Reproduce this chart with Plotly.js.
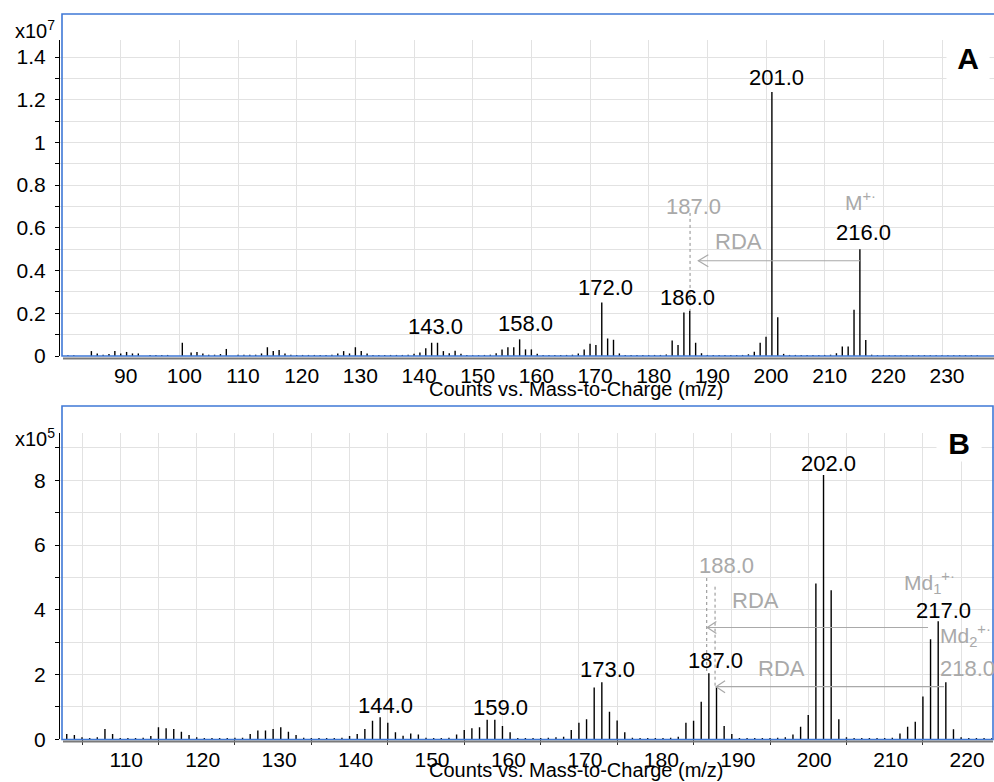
<!DOCTYPE html>
<html>
<head>
<meta charset="utf-8">
<script src="https://cdn.plot.ly/plotly-3.0.1.min.js"></script>
<style>html,body{margin:0;padding:0;background:#fff;}#chart{width:994px;height:782px;}</style>
</head>
<body>
<div id="chart"></div>
<script>
// ---- Panel A: m/z and counts (x10^7) ----
const mzA = [81,82,85,86,87,88,89,90,91,92,93,95,96,97,98,100.5,102,103,104,105,106,107,108,110,111,112,113,114,115,116,117,118,119,120,121,122,123,124,125,126,127,128,129,130,131,132,133,134,135,136,137,138,139,140,141,142,143,144,145,146,147,148,149,150,151,152,153,154,155,156,157,158,159,160,161,162,163,164,165,166,167,168,169,170,171,172,173,174,175,176,177,178,179,180,181,182,183,184,185,186,187,188,189,190,191,192,193,194,195,196,197,198,199,200,201,202,203,204,205,206,207,208,209,210,211,212,213,214,215,216,217,218,219,220,221,222,223,224,225,226,227,228,229,230,231,232,233,234,235,236];
const intA = [0.004,0.004,0.023,0.012,0.006,0.009,0.023,0.012,0.019,0.012,0.012,0.005,0.005,0.005,0.005,0.062,0.016,0.019,0.012,0.006,0.006,0.009,0.033,0.006,0.006,0.006,0.006,0.012,0.041,0.023,0.028,0.012,0.006,0.005,0.005,0.005,0.005,0.005,0.005,0.006,0.012,0.023,0.012,0.041,0.023,0.012,0.005,0.005,0.005,0.005,0.005,0.005,0.006,0.010,0.016,0.036,0.062,0.062,0.023,0.013,0.025,0.010,0.005,0.004,0.004,0.005,0.006,0.013,0.031,0.041,0.041,0.078,0.031,0.031,0.010,0.005,0.005,0.005,0.005,0.005,0.006,0.012,0.031,0.057,0.052,0.250,0.082,0.076,0.012,0.005,0.005,0.005,0.005,0.005,0.005,0.005,0.007,0.072,0.052,0.204,0.212,0.062,0.013,0.005,0.005,0.005,0.005,0.005,0.005,0.005,0.008,0.020,0.062,0.090,1.236,0.181,0.010,0.005,0.005,0.005,0.005,0.005,0.005,0.005,0.006,0.013,0.045,0.044,0.216,0.500,0.075,0.006,0.004,0.004,0.004,0.004,0.004,0.004,0.004,0.004,0.004,0.004,0.004,0.004,0.004,0.004,0.004,0.004,0.004,0.004];
const labeledA = [143, 158, 172, 186, 201, 216];
const xTicksA = [90,100,110,120,130,140,150,160,170,180,190,200,210,220,230];

// ---- Panel B: m/z and counts (x10^5) ----
const mzB = [103,104,105,106,107,108,109,110,111,112,113,114,115,116,117,118,119,120,121,122,123,124,125,126,127,128,129,130,131,132,133,134,135,136,137,138,139,140,141,142,143,144,145,146,147,148,149,150,151,152,153,154,155,156,157,158,159,160,161,162,163,164,165,166,167,168,169,170,171,172,173,174,175,176,177,178,179,180,181,182,183,184,185,186,187,188,189,190,191,192,193,194,195,196,197,198,199,200,201,202,203,204,205,206,207,208,209,210,211,212,213,214,215,216,217,218,219,220,221,222,223,224];
const intB = [0.16,0.13,0.06,0.04,0.06,0.32,0.16,0.04,0.04,0.04,0.05,0.10,0.37,0.34,0.32,0.23,0.13,0.06,0.04,0.04,0.04,0.04,0.05,0.05,0.16,0.27,0.27,0.32,0.37,0.23,0.13,0.05,0.04,0.04,0.04,0.04,0.05,0.10,0.16,0.32,0.57,0.68,0.51,0.22,0.11,0.18,0.15,0.05,0.04,0.04,0.05,0.15,0.29,0.34,0.37,0.60,0.60,0.41,0.22,0.04,0.04,0.04,0.04,0.05,0.06,0.08,0.29,0.51,0.62,1.60,1.76,0.85,0.58,0.22,0.05,0.04,0.04,0.04,0.04,0.05,0.08,0.51,0.57,1.16,2.04,1.61,0.41,0.16,0.04,0.04,0.04,0.04,0.04,0.05,0.06,0.15,0.39,0.75,4.81,8.16,4.60,0.62,0.06,0.04,0.04,0.04,0.04,0.04,0.05,0.18,0.39,0.54,1.32,3.09,3.65,1.76,0.31,0.06,0.04,0.04,0.04,0.03];
const labeledB = [144, 159, 173, 187, 202, 217];

const FONT = 'Liberation Sans, Arial, Helvetica, sans-serif';
const GRID = '#e2e2e2';
const BLUE = '#3f78d6';
const GRAY = '#a9a9a9';

function stems(mz, vals, xa, ya) {
  const x = [], y = [];
  mz.forEach((m, i) => { x.push(m, m, null); y.push(0, vals[i], null); });
  return {type: 'scatter', mode: 'lines', x, y, xaxis: xa, yaxis: ya,
          line: {color: '#000', width: 1.4}, hoverinfo: 'skip', showlegend: false};
}

const traces = [stems(mzA, intA, 'x', 'y'), stems(mzB, intB, 'x2', 'y2')];

const H = 782, L = 60, W = 934;
const py = p => (H - p) / H;       // pixel row -> paper y
const px = p => (p - L) / W;       // pixel column -> paper x

function lab(text, x, y, xref, yref, color, size, extra) {
  return Object.assign({text, x, y, xref, yref, showarrow: false,
    xanchor: 'center', yanchor: 'middle',
    font: {family: FONT, size: size || 22, color: color || '#000'}}, extra || {});
}

// peak label positions (data coordinates)
const posA = {143: [143.71, 0.137], 158: [158.92, 0.152], 172: [172.64, 0.323], 186: [186.62, 0.276], 201: [201.71, 1.306], 216: [216.59, 0.576]};
const posB = {144: [144.74, 1.059], 159: [159.72, 0.967], 173: [173.74, 2.141], 187: [187.81, 2.449], 202: [202.70, 8.534], 217: [217.68, 3.963]};

const annotations = [];
labeledA.forEach(m => annotations.push(lab(m.toFixed(1), posA[m][0], posA[m][1], 'x', 'y')));
labeledB.forEach(m => annotations.push(lab(m.toFixed(1), posB[m][0], posB[m][1], 'x2', 'y2')));

// gray annotations A
annotations.push(lab('187.0', 187.56, 0.698, 'x', 'y', GRAY));
annotations.push(lab('RDA', 195.32, 0.538, 'x', 'y', GRAY));
annotations.push(lab('M<sup>+·</sup>', 216.03, 0.725, 'x', 'y', GRAY, 21));
annotations.push(lab('<b>A</b>', 234.44, 1.395, 'x', 'y', '#000', 30,
  {bgcolor: '#fff', width: 40, height: 40}));
// gray annotations B
annotations.push(lab('188.0', 189.34, 5.353, 'x2', 'y2', GRAY));
annotations.push(lab('RDA', 193.11, 4.287, 'x2', 'y2', GRAY));
annotations.push(lab('RDA', 196.44, 2.202, 'x2', 'y2', GRAY));
annotations.push(lab('Md<sub>1</sub><sup>+·</sup>', 215.9, 4.83, 'x2', 'y2', GRAY, 21));
annotations.push(lab('Md<sub>2</sub><sup>+·</sup>', 220.6, 3.22, 'x2', 'y2', GRAY, 21));
annotations.push(lab('218.0', 220.78, 2.202, 'x2', 'y2', GRAY));
annotations.push(lab('<b>B</b>', 219.73, 9.15, 'x2', 'y2', '#000', 30,
  {bgcolor: '#fff', width: 42, height: 34}));

// multipliers and axis titles
annotations.push(lab('x10<sup>7</sup>', px(35), py(29), 'paper', 'paper', '#000', 20));
annotations.push(lab('x10<sup>5</sup>', px(35), py(437), 'paper', 'paper', '#000', 20));
annotations.push(lab('Counts vs. Mass-to-Charge (m/z)', px(576), py(389), 'paper', 'paper', '#000', 20));
annotations.push(lab('Counts vs. Mass-to-Charge (m/z)', px(576), py(770), 'paper', 'paper', '#000', 20));

function chevron(xt, yt, dx, dy, xr, yr) {
  return {type: 'path', xref: xr, yref: yr, layer: 'above',
    path: `M ${xt+dx},${yt+dy} L ${xt},${yt} L ${xt+dx},${yt-dy}`,
    line: {color: GRAY, width: 1.2}};
}
function seg(x0, y0, x1, y1, xr, yr, color, dash, width) {
  return {type: 'line', xref: xr, yref: yr, x0, y0, x1, y1, layer: 'above',
    line: {color, width: width || 1.2, dash: dash || 'solid'}};
}

const shapes = [
  {type: 'rect', xref: 'paper', yref: 'paper', x0: px(62), x1: px(1000), y0: py(356), y1: py(14),
   line: {color: BLUE, width: 1.6}, layer: 'above'},
  {type: 'rect', xref: 'paper', yref: 'paper', x0: px(62), x1: px(993), y0: py(739.5), y1: py(406),
   line: {color: BLUE, width: 1.6}, layer: 'above'},
  seg(px(63), py(358.5), px(1000), py(358.5), 'paper', 'paper', '#7a7a7a', 'solid', 2),
  seg(px(63), py(741.5), px(993), py(741.5), 'paper', 'paper', '#7a7a7a', 'solid', 2),
  seg(187.05, 0.67, 187.05, 0.212, 'x', 'y', '#8c8c8c', '3px,3px', 1),
  seg(188.46, 0.446, 216.03, 0.446, 'x', 'y', GRAY),
  chevron(188.46, 0.446, 1.7, 0.028, 'x', 'y'),
  seg(186.72, 4.982, 186.72, 2.048, 'x2', 'y2', '#8c8c8c', '3px,3px', 1),
  seg(187.81, 4.714, 187.81, 1.615, 'x2', 'y2', '#8c8c8c', '3px,3px', 1),
  seg(186.8, 3.453, 215.67, 3.453, 'x2', 'y2', GRAY),
  chevron(186.8, 3.453, 1.18, 0.185, 'x2', 'y2'),
  seg(187.94, 1.625, 217.77, 1.625, 'x2', 'y2', GRAY),
  chevron(187.94, 1.625, 1.18, 0.185, 'x2', 'y2')
];

const tickFont = {family: FONT, size: 21, color: '#000'};
const layout = {
  width: 994, height: 782,
  margin: {l: 60, r: 0, t: 0, b: 0},
  paper_bgcolor: '#fff', plot_bgcolor: '#fff',
  showlegend: false,
  xaxis: {domain: [0, 1], anchor: 'y', range: [79.65, 238.86], tickmode: 'array', tickvals: xTicksA,
    ticktext: xTicksA.map(String),
    showgrid: true, gridcolor: GRID, gridwidth: 1, zeroline: false, showline: false,
    ticks: '', tickfont: tickFont, ticklabelshift: 5, ticklabelstandoff: 5},
  yaxis: {domain: [py(356), py(40)], anchor: 'x', range: [0, 1.4796], tick0: 0, dtick: 0.2,
    showgrid: true, gridcolor: GRID, gridwidth: 1, zeroline: false,
    showline: true, linecolor: '#000', linewidth: 1,
    ticks: 'outside', ticklen: 4, tickcolor: '#000', tickfont: tickFont, ticklabelstandoff: 5,
    minor: {dtick: 0.1, showgrid: true, gridcolor: GRID, ticks: 'outside', ticklen: 4, tickcolor: '#000'}},
  xaxis2: {domain: [0, 1], anchor: 'y2', range: [102.12, 224.3], tick0: 0, dtick: 10,
    showgrid: true, gridcolor: GRID, gridwidth: 1, zeroline: false, showline: false,
    ticks: '', tickfont: tickFont, ticklabelshift: 6, ticklabelstandoff: 6,
    minor: {dtick: 5, showgrid: true, gridcolor: GRID, ticks: 'outside', ticklen: 5, tickcolor: '#333'}},
  yaxis2: {domain: [py(739.3), py(432.7)], anchor: 'x2', range: [0, 9.47], tick0: 0, dtick: 2,
    showgrid: true, gridcolor: GRID, gridwidth: 1, zeroline: false,
    showline: true, linecolor: '#000', linewidth: 1,
    ticks: 'outside', ticklen: 4, tickcolor: '#000', tickfont: tickFont, ticklabelstandoff: 5,
    minor: {dtick: 1, showgrid: true, gridcolor: GRID, ticks: 'outside', ticklen: 4, tickcolor: '#000'}},
  annotations, shapes
};

Plotly.newPlot('chart', traces, layout, {staticPlot: true, displayModeBar: false});
</script>
</body>
</html>
